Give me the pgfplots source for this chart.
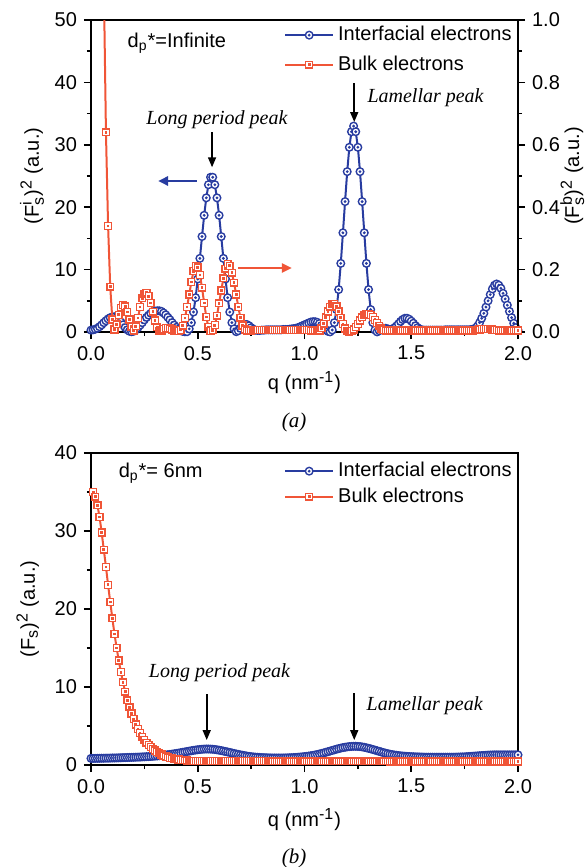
\documentclass[border=0pt]{standalone}
\usepackage{fontspec}
\setmainfont{Liberation Sans}
\newfontfamily\tnr{Liberation Serif}
\usepackage{pgfplots}
\pgfplotsset{compat=1.18}
\usetikzlibrary{arrows.meta}
\definecolor{myblue}{RGB}{40,60,160}
\definecolor{myred}{RGB}{240,85,55}
\newcommand\sm[1]{\mbox{\fontsize{8}{9}\selectfont #1}}
\pgfdeclareplotmark{codot}{%
  \pgfpathcircle{\pgfpointorigin}{\pgfplotmarksize}%
  \pgfusepathqfillstroke
  \pgfpathcircle{\pgfpointorigin}{0.15\pgfplotmarksize}%
  \pgfusepathqstroke
}
\pgfdeclareplotmark{sqdot}{%
  \pgfpathrectangle{\pgfpoint{-\pgfplotmarksize}{-\pgfplotmarksize}}{\pgfpoint{2\pgfplotmarksize}{2\pgfplotmarksize}}%
  \pgfusepathqfillstroke
  \pgfpathrectangle{\pgfpoint{-0.2\pgfplotmarksize}{-0.2\pgfplotmarksize}}{\pgfpoint{0.4\pgfplotmarksize}{0.4\pgfplotmarksize}}%
  \pgfusepathqstroke
}
\pgfplotsset{
  blueS/.style={color=myblue, line width=1pt, mark=codot, mark size=1.9pt, mark options={solid, fill=white, line width=0.7pt}},
  redS/.style={color=myred, line width=1pt, mark=sqdot, mark size=1.7pt, mark options={solid, fill=white, line width=0.7pt}},
  legend image code/.code={\draw[mark repeat=2,mark phase=2,#1] plot coordinates {(0pt,0pt) (12pt,0pt) (24pt,0pt)};},
  myaxis/.style={scale only axis, width=213.5pt, height=156pt, xmin=0, xmax=2, anchor=south west,
    tick align=outside, major tick length=3.5pt, minor tick length=2pt,
    every tick/.style={black, line width=0.8pt}, axis line style={line width=0.9pt},
    tick label style={font=\fontsize{10}{12}\selectfont},
    label style={font=\fontsize{11.5}{13}\selectfont},
    /pgf/number format/assume math mode=true,
    legend cell align=left,
  },
}
\begin{document}
\begin{tikzpicture}
\path[use as bounding box] (0,0) rectangle (294pt,-433.5pt);
% ---------- panel (a), left axis ----------
\begin{axis}[myaxis, at={(45.5pt,-166pt)},
  ymin=0, ymax=50, ytick={0,10,...,50}, minor y tick num=1,
  xtick={0,0.5,1,1.5,2}, minor x tick num=1,
  xticklabel style={/pgf/number format/.cd, fixed, fixed zerofill, precision=1},
  xtick pos=left, ytick pos=left,
  xlabel={q (nm$^{\sm{-1}}$)},
  ylabel={(F$^{\sm{i}}_{\sm{s}}$)$^{\sm{2}}$ (a.u.)},
  every axis x label/.style={at={(axis description cs:0.5,-0.163)}, anchor=center},
  every axis y label/.style={at={(axis description cs:-0.138,0.5)}, anchor=center, rotate=90},
  legend style={at={(1,1)}, anchor=north east, draw=none, fill=none, font=\fontsize{10}{12}\selectfont, inner sep=1pt, row sep=2pt},
]
\addplot[blueS] coordinates {
(0.00,0.3)(0.01,0.35)(0.02,0.45)(0.03,0.6)(0.04,0.85)(0.05,1.15)(0.06,1.5)(0.07,1.8)(0.08,2.1)(0.09,2.3)
(0.10,2.4)(0.11,2.45)(0.12,2.3)(0.13,2.0)(0.14,1.6)(0.15,1.15)(0.16,0.7)(0.17,0.35)(0.18,0.12)(0.19,0.05)
(0.20,0.12)(0.21,0.35)(0.22,0.7)(0.23,1.1)(0.24,1.5)(0.25,1.95)(0.26,2.35)(0.27,2.7)(0.28,3.0)(0.29,3.2)
(0.30,3.35)(0.31,3.4)(0.32,3.4)(0.33,3.3)(0.34,3.05)(0.35,2.75)(0.36,2.35)(0.37,1.95)(0.38,1.5)(0.39,1.1)
(0.40,0.75)(0.41,0.45)(0.42,0.22)(0.43,0.1)(0.44,0.04)(0.45,0.05)(0.46,0.5)(0.47,1.5)(0.48,3.2)(0.49,5.5)
(0.50,8.5)(0.51,11.8)(0.52,15.3)(0.53,18.7)(0.54,21.5)(0.55,23.6)(0.56,24.8)(0.57,24.8)(0.58,23.6)(0.59,21.5)
(0.60,18.7)(0.61,15.3)(0.62,11.8)(0.63,8.5)(0.64,5.5)(0.65,3.2)(0.66,1.5)(0.67,0.5)(0.68,0.05)(0.69,0.2)
(0.70,0.6)(0.71,1.0)(0.72,1.2)(0.73,1.2)(0.74,1.0)(0.75,0.7)(0.76,0.45)(0.77,0.3)(0.78,0.25)(0.79,0.25)
(0.80,0.3)(0.81,0.3)(0.82,0.35)(0.83,0.35)(0.84,0.35)(0.85,0.35)(0.86,0.35)(0.87,0.35)(0.88,0.35)(0.89,0.35)
(0.90,0.4)(0.91,0.4)(0.92,0.4)(0.93,0.45)(0.94,0.5)(0.95,0.55)(0.96,0.6)(0.97,0.7)(0.98,0.85)(0.99,1.0)
(1.00,1.15)(1.01,1.3)(1.02,1.45)(1.03,1.6)(1.04,1.65)(1.05,1.65)(1.06,1.55)(1.07,1.35)(1.08,1.05)(1.09,0.7)
(1.10,0.35)(1.11,0.1)(1.12,0.02)(1.13,0.32)(1.14,1.5)(1.15,3.6)(1.16,6.8)(1.17,11.0)(1.18,15.9)(1.19,20.9)
(1.20,25.7)(1.21,29.6)(1.22,32.1)(1.23,33.0)(1.24,32.1)(1.25,29.6)(1.26,25.7)(1.27,20.9)(1.28,15.9)(1.29,11.0)
(1.30,6.8)(1.31,3.6)(1.32,1.5)(1.33,0.32)(1.34,0.02)(1.35,0.2)(1.36,0.45)(1.37,0.6)(1.38,0.6)(1.39,0.5)
(1.40,0.4)(1.41,0.45)(1.42,0.65)(1.43,0.95)(1.44,1.3)(1.45,1.7)(1.46,2.0)(1.47,2.2)(1.48,2.2)(1.49,2.05)
(1.50,1.75)(1.51,1.4)(1.52,1.0)(1.53,0.7)(1.54,0.45)(1.55,0.35)(1.56,0.3)(1.57,0.3)(1.58,0.3)(1.59,0.3)
(1.60,0.3)(1.61,0.3)(1.62,0.3)(1.63,0.3)(1.64,0.3)(1.65,0.3)(1.66,0.35)(1.67,0.35)(1.68,0.35)(1.69,0.35)
(1.70,0.35)(1.71,0.35)(1.72,0.35)(1.73,0.35)(1.74,0.35)(1.75,0.35)(1.76,0.35)(1.77,0.35)(1.78,0.4)(1.79,0.45)
(1.80,0.6)(1.81,0.95)(1.82,1.5)(1.83,2.2)(1.84,3.0)(1.85,4.0)(1.86,5.0)(1.87,6.0)(1.88,6.9)(1.89,7.5)
(1.90,7.7)(1.91,7.5)(1.92,7.0)(1.93,6.2)(1.94,5.3)(1.95,4.3)(1.96,3.3)(1.97,2.3)(1.98,1.4)(1.99,0.7)
(2.00,0.3)
};
\addlegendentry{Interfacial electrons}
\addlegendimage{redS}
\addlegendentry{Bulk electrons}
\node[anchor=west, font=\fontsize{10}{12}\selectfont] at (axis cs:0.139,46.3) {d\textsubscript{p}*=Infinite};
\node[font=\tnr\itshape\fontsize{10}{12}\selectfont] at (axis cs:0.59,34.1) {Long period peak};
\draw[-{Triangle[length=5pt,width=4pt]}, line width=0.8pt] (axis cs:0.567,32.05) -- (axis cs:0.567,26.4);
\node[anchor=west, font=\tnr\itshape\fontsize{10}{12}\selectfont] at (axis cs:1.262,37.5) {Lamellar peak};
\draw[-{Triangle[length=5pt,width=4pt]}, line width=0.8pt] (axis cs:1.233,39.9) -- (axis cs:1.233,33.65);
\draw[-{Triangle[length=5pt,width=4.5pt]}, myblue, line width=1.3pt] (axis cs:0.496,24.2) -- (axis cs:0.314,24.2);
\draw[-{Triangle[length=5pt,width=4.5pt]}, myred, line width=1.3pt] (axis cs:0.689,10.26) -- (axis cs:0.941,10.26);
\end{axis}
% ---------- panel (a), right axis ----------
\begin{axis}[myaxis, at={(45.5pt,-166pt)},
  axis y line*=right, axis x line=none,
  ymin=0, ymax=1, ytick={0,0.2,0.4,0.6,0.8,1.0}, minor y tick num=1,
  yticklabel style={/pgf/number format/.cd, fixed, fixed zerofill, precision=1},
  ylabel={(F$^{\sm{b}}_{\sm{s}}$)$^{\sm{2}}$ (a.u.)},
  every axis y label/.style={at={(axis description cs:1.127,0.5)}, anchor=center, rotate=90},
]
\addplot[redS] coordinates {
(0.00,14)(0.01,10)(0.02,7)(0.03,4.8)(0.04,3.1)(0.05,1.95)(0.06,1.12)(0.07,0.64)(0.08,0.34)(0.09,0.145)
(0.10,0.04)(0.11,0.008)(0.12,0.025)(0.13,0.055)(0.14,0.078)(0.15,0.087)(0.16,0.082)(0.17,0.064)(0.18,0.04)(0.19,0.017)
(0.20,0.005)(0.21,0.018)(0.22,0.045)(0.23,0.08)(0.24,0.108)(0.25,0.123)(0.26,0.126)(0.27,0.115)(0.28,0.093)(0.29,0.065)
(0.30,0.037)(0.31,0.015)(0.32,0.004)(0.33,0.005)(0.34,0.01)(0.35,0.013)(0.36,0.013)(0.37,0.011)(0.38,0.008)(0.39,0.005)
(0.40,0.003)(0.41,0.003)(0.42,0.007)(0.43,0.02)(0.44,0.045)(0.45,0.08)(0.46,0.12)(0.47,0.16)(0.48,0.195)(0.49,0.212)
(0.50,0.207)(0.51,0.183)(0.52,0.142)(0.53,0.093)(0.54,0.048)(0.55,0.016)(0.56,0.003)(0.57,0.006)(0.58,0.022)(0.59,0.052)
(0.60,0.092)(0.61,0.133)(0.62,0.172)(0.63,0.203)(0.64,0.218)(0.65,0.212)(0.66,0.19)(0.67,0.158)(0.68,0.12)(0.69,0.08)
(0.70,0.046)(0.71,0.021)(0.72,0.008)(0.73,0.004)(0.74,0.004)(0.75,0.005)(0.76,0.006)(0.77,0.006)(0.78,0.006)(0.79,0.006)
(0.80,0.006)(0.81,0.006)(0.82,0.006)(0.83,0.006)(0.84,0.006)(0.85,0.006)(0.86,0.006)(0.87,0.006)(0.88,0.006)(0.89,0.006)
(0.90,0.006)(0.91,0.006)(0.92,0.006)(0.93,0.006)(0.94,0.006)(0.95,0.006)(0.96,0.006)(0.97,0.006)(0.98,0.006)(0.99,0.006)
(1.00,0.006)(1.01,0.006)(1.02,0.006)(1.03,0.005)(1.04,0.005)(1.05,0.004)(1.06,0.003)(1.07,0.004)(1.08,0.012)(1.09,0.027)
(1.10,0.047)(1.11,0.066)(1.12,0.081)(1.13,0.09)(1.14,0.09)(1.15,0.082)(1.16,0.066)(1.17,0.046)(1.18,0.026)(1.19,0.011)
(1.20,0.003)(1.21,0.001)(1.22,0.003)(1.23,0.008)(1.24,0.016)(1.25,0.026)(1.26,0.037)(1.27,0.047)(1.28,0.054)(1.29,0.058)
(1.30,0.058)(1.31,0.055)(1.32,0.048)(1.33,0.039)(1.34,0.029)(1.35,0.019)(1.36,0.011)(1.37,0.006)(1.38,0.004)(1.39,0.004)
(1.40,0.005)(1.41,0.005)(1.42,0.005)(1.43,0.005)(1.44,0.005)(1.45,0.005)(1.46,0.005)(1.47,0.005)(1.48,0.005)(1.49,0.005)
(1.50,0.005)(1.51,0.005)(1.52,0.005)(1.53,0.005)(1.54,0.005)(1.55,0.005)(1.56,0.005)(1.57,0.005)(1.58,0.005)(1.59,0.005)
(1.60,0.005)(1.61,0.005)(1.62,0.005)(1.63,0.005)(1.64,0.005)(1.65,0.005)(1.66,0.005)(1.67,0.005)(1.68,0.005)(1.69,0.005)
(1.70,0.005)(1.71,0.005)(1.72,0.005)(1.73,0.005)(1.74,0.005)(1.75,0.005)(1.76,0.005)(1.77,0.005)(1.78,0.005)(1.79,0.005)
(1.80,0.006)(1.81,0.007)(1.82,0.008)(1.83,0.009)(1.84,0.01)(1.85,0.01)(1.86,0.01)(1.87,0.009)(1.88,0.008)(1.89,0.007)
(1.90,0.006)(1.91,0.005)(1.92,0.005)(1.93,0.005)(1.94,0.005)(1.95,0.005)(1.96,0.005)(1.97,0.005)(1.98,0.005)(1.99,0.005)
(2.00,0.005)
};
\end{axis}
% ---------- panel (b) ----------
\begin{axis}[myaxis, at={(45.5pt,-382.5pt)},
  ymin=0, ymax=40, ytick={0,10,...,40}, minor y tick num=1,
  xtick={0,0.5,1,1.5,2}, minor x tick num=1,
  xticklabel style={/pgf/number format/.cd, fixed, fixed zerofill, precision=1},
  xtick pos=left, ytick pos=left,
  xlabel={q (nm$^{\sm{-1}}$)},
  ylabel={(F$_{\sm{s}}$)$^{\sm{2}}$ (a.u.)},
  every axis x label/.style={at={(axis description cs:0.5,-0.176)}, anchor=center},
  every axis y label/.style={at={(axis description cs:-0.148,0.5)}, anchor=center, rotate=90},
  legend style={at={(1,1)}, anchor=north east, draw=none, fill=none, font=\fontsize{10}{12}\selectfont, inner sep=1pt, row sep=0pt, yshift=-1.5pt},
]
\addplot[blueS] coordinates {
(0.00,0.85)(0.01,0.85)(0.02,0.85)(0.03,0.86)(0.04,0.86)(0.05,0.87)(0.06,0.87)(0.07,0.88)(0.08,0.88)(0.09,0.89)
(0.10,0.9)(0.11,0.9)(0.12,0.91)(0.13,0.92)(0.14,0.93)(0.15,0.94)(0.16,0.95)(0.17,0.96)(0.18,0.97)(0.19,0.98)
(0.20,0.99)(0.21,1.0)(0.22,1.01)(0.23,1.02)(0.24,1.04)(0.25,1.05)(0.26,1.07)(0.27,1.08)(0.28,1.1)(0.29,1.12)
(0.30,1.14)(0.31,1.16)(0.32,1.19)(0.33,1.22)(0.34,1.25)(0.35,1.28)(0.36,1.32)(0.37,1.36)(0.38,1.4)(0.39,1.44)
(0.40,1.48)(0.41,1.53)(0.42,1.58)(0.43,1.63)(0.44,1.68)(0.45,1.73)(0.46,1.78)(0.47,1.83)(0.48,1.88)(0.49,1.92)
(0.50,1.96)(0.51,1.99)(0.52,2.02)(0.53,2.04)(0.54,2.05)(0.55,2.05)(0.56,2.04)(0.57,2.02)(0.58,1.99)(0.59,1.95)
(0.60,1.9)(0.61,1.85)(0.62,1.79)(0.63,1.73)(0.64,1.67)(0.65,1.61)(0.66,1.55)(0.67,1.48)(0.68,1.42)(0.69,1.36)
(0.70,1.3)(0.71,1.25)(0.72,1.2)(0.73,1.15)(0.74,1.11)(0.75,1.07)(0.76,1.04)(0.77,1.01)(0.78,0.99)(0.79,0.97)
(0.80,0.95)(0.81,0.94)(0.82,0.93)(0.83,0.92)(0.84,0.91)(0.85,0.9)(0.86,0.9)(0.87,0.9)(0.88,0.9)(0.89,0.9)
(0.90,0.9)(0.91,0.91)(0.92,0.92)(0.93,0.93)(0.94,0.94)(0.95,0.96)(0.96,0.98)(0.97,1.0)(0.98,1.02)(0.99,1.05)
(1.00,1.08)(1.01,1.11)(1.02,1.15)(1.03,1.19)(1.04,1.24)(1.05,1.29)(1.06,1.35)(1.07,1.41)(1.08,1.48)(1.09,1.55)
(1.10,1.63)(1.11,1.71)(1.12,1.79)(1.13,1.87)(1.14,1.95)(1.15,2.03)(1.16,2.1)(1.17,2.17)(1.18,2.23)(1.19,2.28)
(1.20,2.32)(1.21,2.36)(1.22,2.38)(1.23,2.4)(1.24,2.4)(1.25,2.38)(1.26,2.36)(1.27,2.32)(1.28,2.27)(1.29,2.21)
(1.30,2.14)(1.31,2.07)(1.32,1.99)(1.33,1.91)(1.34,1.83)(1.35,1.75)(1.36,1.67)(1.37,1.59)(1.38,1.52)(1.39,1.45)
(1.40,1.39)(1.41,1.34)(1.42,1.29)(1.43,1.25)(1.44,1.21)(1.45,1.18)(1.46,1.15)(1.47,1.13)(1.48,1.11)(1.49,1.09)
(1.50,1.07)(1.51,1.06)(1.52,1.05)(1.53,1.04)(1.54,1.03)(1.55,1.02)(1.56,1.01)(1.57,1.0)(1.58,1.0)(1.59,1.0)
(1.60,1.0)(1.61,1.0)(1.62,1.0)(1.63,1.0)(1.64,1.0)(1.65,1.0)(1.66,1.0)(1.67,1.0)(1.68,1.0)(1.69,1.0)
(1.70,1.0)(1.71,1.01)(1.72,1.02)(1.73,1.03)(1.74,1.04)(1.75,1.05)(1.76,1.07)(1.77,1.09)(1.78,1.11)(1.79,1.13)
(1.80,1.15)(1.81,1.17)(1.82,1.19)(1.83,1.21)(1.84,1.23)(1.85,1.25)(1.86,1.27)(1.87,1.28)(1.88,1.29)(1.89,1.3)
(1.90,1.3)(1.91,1.3)(1.92,1.3)(1.93,1.3)(1.94,1.3)(1.95,1.3)(1.96,1.3)(1.97,1.3)(1.98,1.3)(1.99,1.3)
(2.00,1.3)
};
\addlegendentry{Interfacial electrons}
\addplot[redS] coordinates {
(0.01,35.0)(0.02,34.4)(0.03,33.3)(0.04,31.8)(0.05,29.8)(0.06,27.6)(0.07,25.4)(0.08,23.1)(0.09,20.9)
(0.10,18.8)(0.11,16.8)(0.12,15.0)(0.13,13.4)(0.14,11.9)(0.15,10.6)(0.16,9.4)(0.17,8.3)(0.18,7.4)(0.19,6.6)
(0.20,5.9)(0.21,5.2)(0.22,4.6)(0.23,4.1)(0.24,3.6)(0.25,3.2)(0.26,2.85)(0.27,2.55)(0.28,2.3)(0.29,2.05)
(0.30,1.85)(0.31,1.65)(0.32,1.5)(0.33,1.35)(0.34,1.2)(0.35,1.1)(0.36,1.0)(0.37,0.92)(0.38,0.85)(0.39,0.79)
(0.40,0.74)(0.41,0.7)(0.42,0.66)(0.43,0.63)(0.44,0.6)(0.45,0.58)(0.46,0.56)(0.47,0.54)(0.48,0.53)(0.49,0.52)
(0.50,0.51)(0.51,0.5)(0.52,0.5)(0.53,0.5)(0.54,0.5)(0.55,0.5)(0.56,0.5)(0.57,0.5)(0.58,0.5)(0.59,0.5)
(0.60,0.5)(0.61,0.5)(0.62,0.5)(0.63,0.5)(0.64,0.5)(0.65,0.5)(0.66,0.5)(0.67,0.5)(0.68,0.5)(0.69,0.5)
(0.70,0.5)(0.71,0.5)(0.72,0.5)(0.73,0.5)(0.74,0.5)(0.75,0.5)(0.76,0.5)(0.77,0.5)(0.78,0.5)(0.79,0.5)
(0.80,0.49)(0.81,0.49)(0.82,0.49)(0.83,0.49)(0.84,0.49)(0.85,0.48)(0.86,0.48)(0.87,0.48)(0.88,0.48)(0.89,0.48)
(0.90,0.48)(0.91,0.48)(0.92,0.48)(0.93,0.48)(0.94,0.48)(0.95,0.48)(0.96,0.48)(0.97,0.48)(0.98,0.48)(0.99,0.48)
(1.00,0.48)(1.01,0.48)(1.02,0.48)(1.03,0.48)(1.04,0.48)(1.05,0.48)(1.06,0.48)(1.07,0.48)(1.08,0.48)(1.09,0.48)
(1.10,0.48)(1.11,0.48)(1.12,0.48)(1.13,0.48)(1.14,0.48)(1.15,0.48)(1.16,0.48)(1.17,0.48)(1.18,0.48)(1.19,0.48)
(1.20,0.47)(1.21,0.47)(1.22,0.47)(1.23,0.47)(1.24,0.47)(1.25,0.47)(1.26,0.47)(1.27,0.47)(1.28,0.47)(1.29,0.47)
(1.30,0.47)(1.31,0.47)(1.32,0.47)(1.33,0.47)(1.34,0.47)(1.35,0.47)(1.36,0.47)(1.37,0.47)(1.38,0.47)(1.39,0.47)
(1.40,0.46)(1.41,0.46)(1.42,0.46)(1.43,0.46)(1.44,0.46)(1.45,0.46)(1.46,0.46)(1.47,0.46)(1.48,0.46)(1.49,0.46)
(1.50,0.46)(1.51,0.46)(1.52,0.46)(1.53,0.46)(1.54,0.46)(1.55,0.46)(1.56,0.46)(1.57,0.46)(1.58,0.46)(1.59,0.46)
(1.60,0.46)(1.61,0.46)(1.62,0.46)(1.63,0.46)(1.64,0.46)(1.65,0.46)(1.66,0.46)(1.67,0.46)(1.68,0.46)(1.69,0.46)
(1.70,0.46)(1.71,0.46)(1.72,0.46)(1.73,0.46)(1.74,0.46)(1.75,0.46)(1.76,0.46)(1.77,0.46)(1.78,0.46)(1.79,0.46)
(1.80,0.46)(1.81,0.46)(1.82,0.46)(1.83,0.46)(1.84,0.46)(1.85,0.46)(1.86,0.46)(1.87,0.46)(1.88,0.46)(1.89,0.46)
(1.90,0.46)(1.91,0.46)(1.92,0.46)(1.93,0.46)(1.94,0.46)(1.95,0.46)(1.96,0.46)(1.97,0.46)(1.98,0.46)(1.99,0.46)
(2.00,0.46)
};
\addlegendentry{Bulk electrons}
\node[anchor=west, font=\fontsize{10}{12}\selectfont] at (axis cs:0.097,37.4) {d\textsubscript{p}*= 6nm};
\node[font=\tnr\itshape\fontsize{10}{12}\selectfont] at (axis cs:0.602,11.8) {Long period peak};
\draw[-{Triangle[length=5pt,width=4pt]}, line width=0.8pt] (axis cs:0.542,9.1) -- (axis cs:0.542,3.2);
\node[anchor=west, font=\tnr\itshape\fontsize{10}{12}\selectfont] at (axis cs:1.258,7.56) {Lamellar peak};
\draw[-{Triangle[length=5pt,width=4pt]}, line width=0.8pt] (axis cs:1.233,9.2) -- (axis cs:1.233,3.2);
\end{axis}
\node[font=\tnr\itshape\fontsize{10.5}{12}\selectfont] at (147pt,-211pt) {(a)};
\node[font=\tnr\itshape\fontsize{10.5}{12}\selectfont] at (147pt,-429pt) {(b)};
\end{tikzpicture}
\end{document}
